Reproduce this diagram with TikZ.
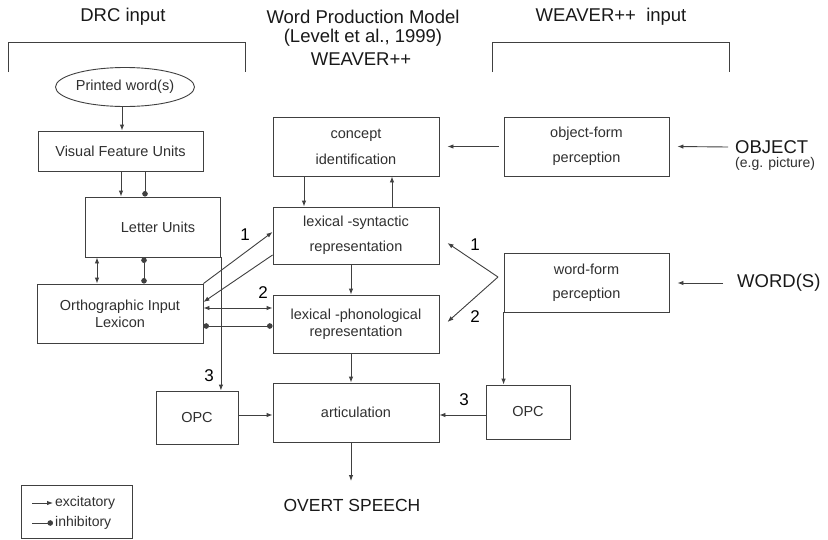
\documentclass[tikz,border=0pt]{standalone}
\usepackage{fontspec}
\setmainfont{Liberation Sans}
\usetikzlibrary{arrows.meta,shapes.geometric}
\definecolor{lc}{HTML}{404040}
\definecolor{tc}{HTML}{303030}
\begin{document}
\begin{tikzpicture}[x=1pt,y=-1pt,
  box/.style={draw=lc, line width=0.9pt, inner sep=0, align=center,
    font=\fontsize{14.5}{17}\selectfont, text=tc},
  exc/.style={draw=lc, line width=0.9pt, -{Latex[length=6pt,width=4.5pt]}},
  inh/.style={draw=lc, line width=0.9pt, -{Circle[length=5.5pt]}},
  both/.style={draw=lc, line width=0.9pt, {Latex[length=6pt,width=4.5pt]}-{Latex[length=6pt,width=4.5pt]}},
  dots/.style={draw=lc, line width=0.9pt, {Circle[length=5.5pt]}-{Circle[length=5.5pt]}},
  plain/.style={draw=lc, line width=0.9pt},
  title/.style={font=\fontsize{18.5}{21}\selectfont, text=black!90, inner sep=0},
  num/.style={font=\fontsize{17}{20}\selectfont, text=black, inner sep=0},
  small/.style={font=\fontsize{14}{17}\selectfont, text=tc, inner sep=0},
  legtext/.style={font=\fontsize{14}{17}\selectfont, text=tc, inner sep=0}]
\useasboundingbox[fill=white] (0,0) rectangle (828,539);

% column headings
\node[title] (hdrc) at (123,17) {DRC input};
\node[title] (hwp1) at (363,17) {Word Production Model};
\node[title] (hwp2) at (363,38) {(Levelt et al., 1999)};
\node[title] (hwp3) at (361,59) {WEAVER++};
\node[title] (hwv) at (611,17) {WEAVER++\ \ input};

% input brackets
\draw[plain] (8,72) -- (8,42) -- (245,42) -- (245,72);
\draw[plain] (492,72) -- (492,42) -- (729,42) -- (729,72);

% DRC side
\node[draw=lc, line width=0.9pt, ellipse, minimum width=124, minimum height=39,
  inner sep=0, font=\fontsize{14.5}{17}\selectfont, text=tc] (pw) at (125,87) {Printed word(s)};
\node[box, minimum width=165, minimum height=40] (vfu) at (120.5,151) {Visual Feature Units};
\node[box, minimum width=135, minimum height=60,
  label={[box, draw=none, xshift=5pt]center:Letter Units}] (lu) at (153,227) {};
\node[box, minimum width=166, minimum height=59] (oil) at (120,313.5) {Orthographic Input\\Lexicon};
\node[box, minimum width=82, minimum height=53] (opcl) at (197,417.5) {OPC};

% WEAVER++ core
\node[box, minimum width=166, minimum height=59] (concept) at (356,146.5) {concept\\[9pt]identification};
\node[box, minimum width=166, minimum height=57] (lexsyn) at (356,235.5) {lexical -syntactic\\[8pt]representation};
\node[box, minimum width=166, minimum height=58] (lexphon) at (356,324) {lexical -phonological\\representation};
\node[box, minimum width=166, minimum height=59] (artic) at (356,412.5) {articulation};
\node[title, font=\fontsize{17.5}{21}\selectfont] (speech) at (352,505) {OVERT SPEECH};

% WEAVER++ input side
\node[box, minimum width=165, minimum height=59] (objform) at (586.5,146.5) {object-form\\[8pt]perception};
\node[box, minimum width=165, minimum height=59] (wordform) at (586.5,282.5) {word-form\\[7pt]perception};
\node[box, minimum width=84, minimum height=54] (opcr) at (528,412) {OPC};
\node[title, anchor=west] (object) at (735,147) {OBJECT};
\node[small, anchor=west] (eg) at (735,164) {(e.g. picture)};
\node[title, anchor=west] (words) at (737,283) {WORD(S)};
\coordinate (fork) at (498,277);

% DRC connections
\draw[exc] ([xshift=-3pt]pw.south) -- ([xshift=-3pt]pw.south |- vfu.north);
\draw[exc] (121,0 |- vfu.south) -- (121,0 |- lu.north);
\draw[inh] (145,0 |- vfu.south) -- (145,0 |- lu.north);
\draw[both] (97,0 |- lu.south) -- (97,0 |- oil.north);
\draw[dots] (144,0 |- lu.south) -- (144,0 |- oil.north);
\draw[exc] (lu.south east) -- (lu.south east |- opcl.north);
\node[num] (n3l) at (209,376) {3};
\draw[exc] (opcl.east |- 0,415) -- (artic.west |- 0,415);

% routes from the orthographic lexicon
\draw[exc] (oil.north east) -- (lexsyn.west |- 0,232);
\draw[exc] (lexsyn.west |- 0,255) -- (oil.east |- 0,302);
\node[num] (n1l) at (245,235) {1};
\draw[both] (oil.east |- 0,308) -- (lexphon.west |- 0,308);
\node[num] (n2l) at (263,293) {2};
\draw[dots] (oil.east |- 0,326) -- (lexphon.west |- 0,326);

% WEAVER++ flow
\draw[exc] (304,0 |- concept.south) -- (304,0 |- lexsyn.north);
\draw[exc] (392,0 |- lexsyn.north) -- (392,0 |- concept.south);
\draw[exc] (351,0 |- lexsyn.south) -- (351,0 |- lexphon.north);
\draw[exc] (351,0 |- lexphon.south) -- (351,0 |- artic.north);
\draw[exc] (351,0 |- artic.south) -- (351,481);

% perceptual input
\draw[exc] ([xshift=-7pt]object.west) -- ([xshift=8pt]objform.east);
\draw[exc] ([xshift=-5pt]objform.west) -- ([xshift=8pt]concept.east);
\draw[exc] ([xshift=-14pt]words.west) -- ([xshift=8pt]wordform.east |- words.west);
\draw[exc] (fork) -- ([xshift=8pt]lexsyn.east |- 0,243);
\draw[exc] (fork) -- ([xshift=8pt]lexphon.east |- 0,322);
\node[num] (n1r) at (475,245) {1};
\node[num] (n2r) at (475,317) {2};
\draw[exc] (wordform.south west) -- (wordform.south west |- opcr.north);
\draw[exc] (opcr.west |- 0,415) -- (artic.east |- 0,415);
\node[num] (n3r) at (464,400) {3};

% legend
\node[box, minimum width=111, minimum height=53] (legend) at (76.5,511.5) {};
\node[legtext, anchor=west] (lexc) at (55,503) {excitatory};
\node[legtext, anchor=west] (linh) at (55,523) {inhibitory};
\draw[exc] ([xshift=-23pt]lexc.west) -- ([xshift=-2pt]lexc.west);
\draw[inh] ([xshift=-23pt]linh.west) -- ([xshift=-2pt]linh.west);
\end{tikzpicture}
\end{document}
